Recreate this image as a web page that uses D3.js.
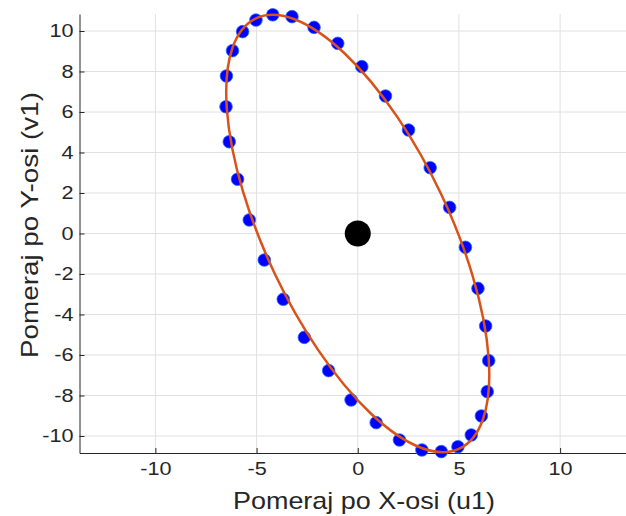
<!DOCTYPE html>
<html>
<head>
<meta charset="utf-8">
<script src="https://cdn.jsdelivr.net/npm/d3@7"></script>
<style>
  body { margin: 0; background: #fff; }
  svg { display: block; font-family: "Liberation Sans", Arial, Helvetica, sans-serif; }
</style>
</head>
<body>
<svg id="chart" width="626" height="516"></svg>
<script>
// measured points (u1, v1)
const uPoints = [-4.20, -3.25, -2.16, -0.99, 0.20, 1.37, 2.51, 3.58, 4.54, 5.32,
                 5.94, 6.32, 6.47, 6.40, 6.11, 5.61, 4.95, 4.13, 3.17, 2.06,
                 0.91, -0.33, -1.44, -2.64, -3.68, -4.62, -5.36, -5.94, -6.35, -6.51,
                 -6.49, -6.19, -5.69, -5.03];
const vPoints = [10.80, 10.71, 10.18, 9.39, 8.24, 6.79, 5.11, 3.25, 1.29, -0.68,
                 -2.71, -4.57, -6.28, -7.81, -9.01, -9.95, -10.53, -10.77, -10.69, -10.20,
                 -9.34, -8.22, -6.77, -5.13, -3.25, -1.31, 0.67, 2.68, 4.53, 6.26,
                 7.78, 9.03, 9.97, 10.54];

// fitted ellipse: u = A sin t, v = B sin(t + phi)
const fitAmplitudes = [6.5, 10.8];
const fitPhaseDeg = 130.3;
const center = [0, 0];

const xTicks = [-10, -5, 0, 5, 10];
const yTicks = [-10, -8, -6, -4, -2, 0, 2, 4, 6, 8, 10];

const xLabel = 'Pomeraj po X-osi (u1)';
const yLabel = 'Pomeraj po Y-osi (v1)';

const svg = d3.select('#chart');
const plotLeft = 79.5, plotRight = 636, plotTop = 14, plotBottom = 453;

const x = d3.scaleLinear().domain([-13.75, 13.75]).range([plotLeft, plotRight]);
const y = d3.scaleLinear().domain([-10.84, 10.84]).range([plotBottom, plotTop]);

const axisColor = '#262626';

// grid
const grid = svg.append('g');
grid.selectAll('.gx').data(xTicks).enter().append('line')
    .attr('x1', d => x(d)).attr('x2', d => x(d))
    .attr('y1', plotTop).attr('y2', plotBottom)
    .attr('stroke', '#e0e0e0').attr('stroke-width', 1);
grid.selectAll('.gy').data(yTicks).enter().append('line')
    .attr('x1', plotLeft).attr('x2', plotRight)
    .attr('y1', d => y(d)).attr('y2', d => y(d))
    .attr('stroke', '#e0e0e0').attr('stroke-width', 1);

// axes
function styleAxis(g) {
    g.attr('font-family', null).attr('font-size', null);
    g.select('.domain').attr('stroke', axisColor);
    g.selectAll('.tick line').attr('stroke', axisColor);
    g.selectAll('.tick text')
        .attr('fill', axisColor)
        .style('font-size', '18.5px')
        .each(function() {
            const w = this.getComputedTextLength();
            this.setAttribute('textLength', w * 1.17);
            this.setAttribute('lengthAdjust', 'spacingAndGlyphs');
        });
}

const plainNum = d => String(d); // hyphen minus, like the original

svg.append('g')
    .attr('transform', `translate(0,${plotBottom})`)
    .call(d3.axisBottom(x).tickValues(xTicks).tickFormat(plainNum)
        .tickSizeInner(-5).tickSizeOuter(0).tickPadding(9))
    .call(styleAxis);

svg.append('g')
    .attr('transform', `translate(${plotLeft},0)`)
    .call(d3.axisLeft(y).tickValues(yTicks).tickFormat(plainNum)
        .tickSizeInner(-5).tickSizeOuter(0).tickPadding(6))
    .call(styleAxis);

// blue points
const pts = uPoints.map((u, i) => ({ u: u, v: vPoints[i] }));
svg.append('g').selectAll('circle')
    .data(pts).enter().append('circle')
    .attr('cx', d => x(d.u))
    .attr('cy', d => y(d.v))
    .attr('r', 6.3)
    .attr('fill', '#0000ff')
    .attr('stroke', '#2a6cff')
    .attr('stroke-width', 0.8);

// fitted ellipse, converted to pixel space
const sx = x(1) - x(0), sy = y(0) - y(1);
const Ap = fitAmplitudes[0] * sx, Bp = fitAmplitudes[1] * sy;
const phi = fitPhaseDeg * Math.PI / 180;
const a = Ap * Ap, c = Bp * Bp, b = -Ap * Bp * Math.cos(phi);
const theta = 0.5 * Math.atan2(2 * b, a - c);
const mid = (a + c) / 2, diff = Math.sqrt(((a - c) / 2) ** 2 + b * b);

svg.append('ellipse')
    .attr('cx', 0).attr('cy', 0)
    .attr('rx', Math.sqrt(mid + diff))
    .attr('ry', Math.sqrt(mid - diff))
    .attr('transform', `translate(${x(center[0])},${y(center[1])}) rotate(${theta * 180 / Math.PI})`)
    .attr('fill', 'none')
    .attr('stroke', '#D95319')
    .attr('stroke-width', 2.5);

// center
svg.append('circle')
    .attr('cx', x(center[0])).attr('cy', y(center[1]))
    .attr('r', 13)
    .attr('fill', '#000');

// labels
svg.append('text')
    .attr('x', 364).attr('y', 508.5)
    .attr('text-anchor', 'middle')
    .attr('fill', axisColor)
    .style('font-size', '24px')
    .attr('textLength', 262).attr('lengthAdjust', 'spacingAndGlyphs')
    .text(xLabel);

svg.append('text')
    .attr('transform', 'translate(37.5,225) rotate(-90)')
    .attr('text-anchor', 'middle')
    .attr('fill', axisColor)
    .style('font-size', '24px')
    .attr('textLength', 266).attr('lengthAdjust', 'spacingAndGlyphs')
    .text(yLabel);
</script>
</body>
</html>
